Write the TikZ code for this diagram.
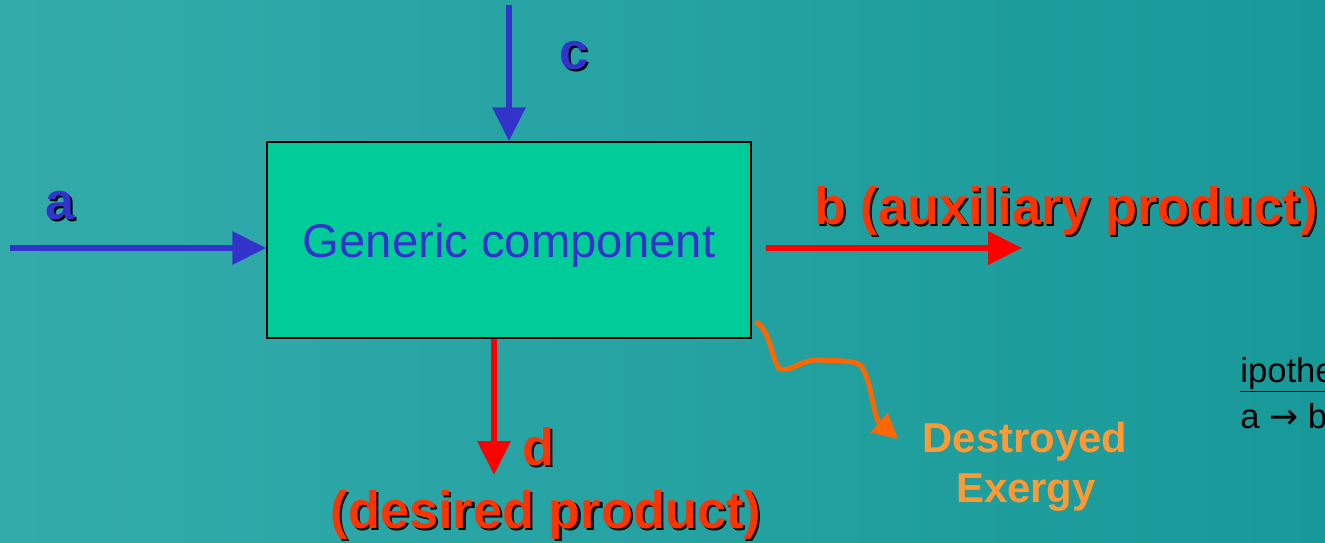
\documentclass[tikz,border=0pt]{standalone}
\usepackage{fontspec}
\setmainfont{Liberation Sans}
\newfontfamily\arrowfont{DejaVu Sans}
\usetikzlibrary{arrows.meta}
\definecolor{bgleft}{HTML}{33ABAB}
\definecolor{bgright}{HTML}{189999}
\definecolor{boxgreen}{HTML}{00CC99}
\definecolor{flowblue}{HTML}{3333CC}
\definecolor{flowred}{HTML}{FF0000}
\definecolor{labelred}{HTML}{FF3300}
\definecolor{lossorange}{HTML}{FF6600}
\definecolor{losstext}{HTML}{FF9933}
\newcommand{\shadowed}[1]{\rlap{\kern1.2pt\raisebox{-1.2pt}{\color{black}#1}}#1}
\begin{document}
\begin{tikzpicture}[
  flow/.style={line width=3.6pt,-{Triangle[length=0.68cm,width=0.64cm]}},
  lbl/.style={font=\fontsize{29.8}{34}\selectfont\bfseries,anchor=base},
  ]
  \fill[left color=bgleft,right color=bgright] (0,0) rectangle (26.5,10.84);
  \clip (0,0) rectangle (26.5,10.84);
  \node[draw=black,line width=0.85pt,fill=boxgreen,minimum width=9.68cm,
    minimum height=3.92cm,inner sep=0pt,text depth=0pt,text=flowblue,
    font=\fontsize{26.9}{30}\selectfont] (comp) at (10.18,6.04) {Generic component};
  % inputs
  \coordinate (ain) at (0.2,5.88);
  \coordinate (cin) at (10.18,10.74);
  \draw[flow,flowblue] (ain) -- (ain -| comp.west);
  \draw[flow,flowblue] (cin) -- (comp.north);
  \node[lbl,text=flowblue] (alabel) at (1.2,6.46) {\shadowed{a}};
  \node[lbl,text=flowblue] (clabel) at (11.48,9.46) {\shadowed{c}};
  % products
  \coordinate (bstart) at (15.32,5.88);
  \coordinate (bout) at (20.44,5.88);
  \coordinate (dout) at (9.88,1.34);
  \draw[flow,flowred] (bstart) -- (bout);
  \draw[flow,flowred] (comp.south -| dout) -- (dout);
  \node[lbl,text=labelred] (blabel) at (21.32,6.36) {\shadowed{b (auxiliary product)}};
  \node[lbl,text=labelred] (dlabel) at (10.76,1.54) {\shadowed{d}};
  \node[lbl,text=labelred] (dtext) at (10.92,0.28) {\shadowed{(desired product)}};
  % exergy loss
  \coordinate (lossstart) at (15.10,4.40);
  \coordinate (lossend) at (17.96,2.06);
  \draw[lossorange,line width=2.8pt,-{Triangle[length=0.5cm,width=0.5cm]}] (lossstart)
    .. controls (15.40,4.30) and (15.45,3.55) .. (15.60,3.46)
    .. controls (15.85,3.40) and (16.00,3.65) .. (16.36,3.64)
    .. controls (16.80,3.62) and (17.10,3.64) .. (17.22,3.52)
    .. controls (17.45,3.20) and (17.45,2.50) .. (lossend);
  \node[text=losstext,font=\fontsize{23.8}{28}\selectfont\bfseries,anchor=base] (dest1) at (20.5,1.80) {Destroyed};
  \node[text=losstext,font=\fontsize{23.8}{28}\selectfont\bfseries,anchor=base] (dest2) at (20.52,0.80) {Exergy};
  % hypothesis note
  \node[font=\fontsize{19.7}{24}\selectfont,anchor=base west,inner sep=0pt] (hyp) at (24.8,3.20) {\underline{ipothe}};
  \node[font=\fontsize{19.7}{24}\selectfont,anchor=base west,inner sep=0pt] (hyprule) at (24.8,2.28) {a {\arrowfont →} b};
\end{tikzpicture}
\end{document}
